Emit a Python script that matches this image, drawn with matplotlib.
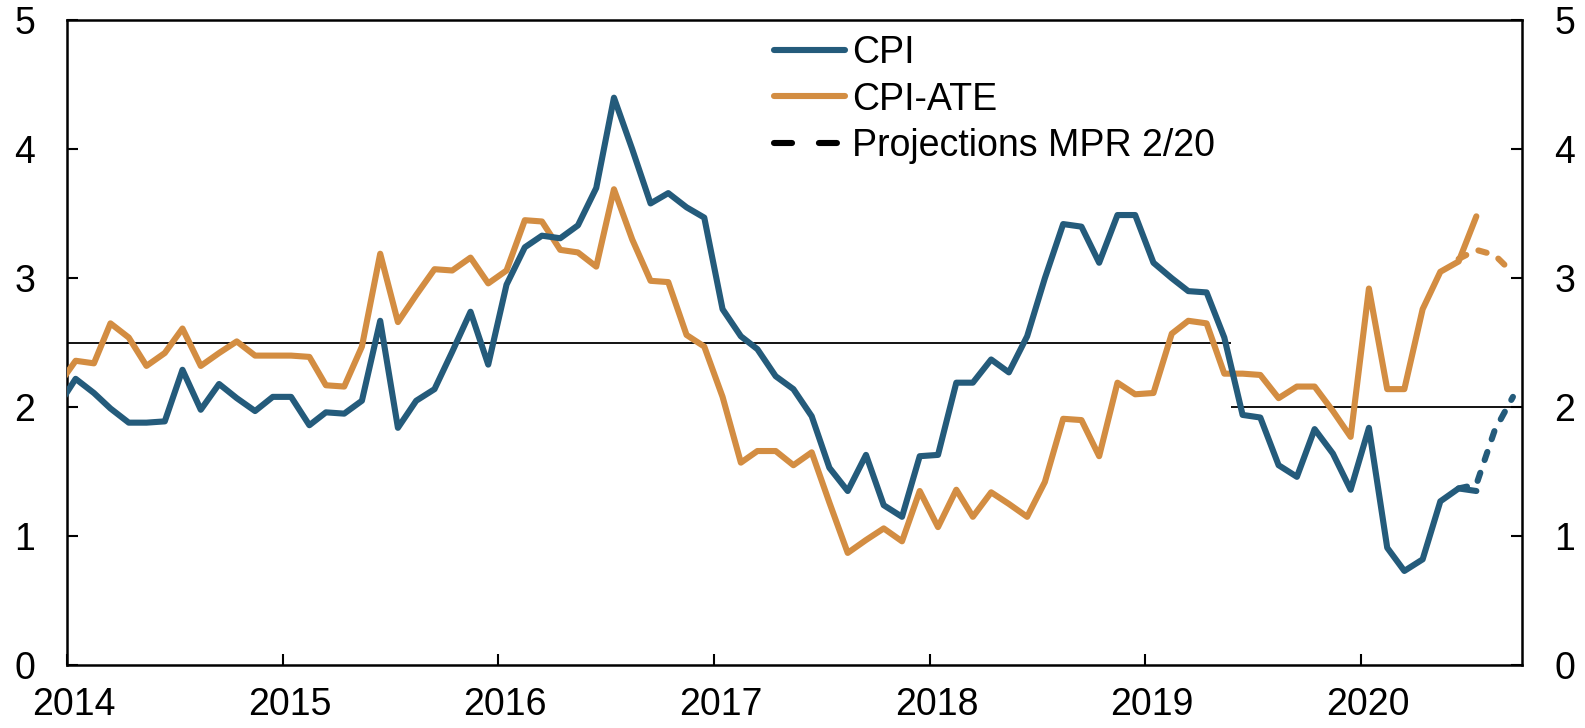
import numpy as np
import pandas as pd
import matplotlib
matplotlib.use("Agg")
import matplotlib.pyplot as plt
import matplotlib.transforms as mtransforms
from matplotlib.lines import Line2D

plt.rcParams['font.family'] = ['Liberation Sans', 'DejaVu Sans']

# monthly observations, Dec 2013 - Jul 2020 (plotted mid-month)
months = pd.date_range("2013-12-01", "2020-07-01", freq="MS") + pd.Timedelta(days=14)
cpi = [2.00,
       2.22, 2.11, 1.99, 1.88, 1.88, 1.89, 2.29, 1.98, 2.18, 2.07, 1.97, 2.08,
       2.08, 1.86, 1.96, 1.95, 2.05, 2.67, 1.84, 2.05, 2.14, 2.43, 2.74, 2.33,
       2.95, 3.24, 3.33, 3.31, 3.41, 3.70, 4.40, 4.00, 3.58, 3.66, 3.55, 3.47,
       2.76, 2.55, 2.45, 2.24, 2.14, 1.93, 1.53, 1.35, 1.63, 1.24, 1.15, 1.62,
       1.63, 2.19, 2.19, 2.37, 2.27, 2.55, 3.00, 3.42, 3.40, 3.12, 3.49, 3.49,
       3.12, 3.00, 2.90, 2.89, 2.54, 1.94, 1.92, 1.55, 1.46, 1.83, 1.64, 1.36,
       1.84, 0.91, 0.73, 0.82, 1.27, 1.37, 1.35]
cpi_ate = [2.16,
           2.36, 2.34, 2.65, 2.54, 2.32, 2.42, 2.61, 2.32, 2.42, 2.51, 2.40, 2.40,
           2.40, 2.39, 2.17, 2.16, 2.47, 3.19, 2.66, 2.87, 3.07, 3.06, 3.16, 2.96,
           3.06, 3.45, 3.44, 3.22, 3.20, 3.09, 3.69, 3.30, 2.98, 2.97, 2.56, 2.47,
           2.08, 1.57, 1.66, 1.66, 1.55, 1.65, 1.26, 0.87, 0.97, 1.06, 0.96, 1.35,
           1.07, 1.36, 1.15, 1.34, 1.25, 1.15, 1.42, 1.91, 1.90, 1.62, 2.19, 2.10,
           2.11, 2.57, 2.67, 2.65, 2.26, 2.26, 2.25, 2.07, 2.16, 2.16, 1.97, 1.77,
           2.92, 2.14, 2.14, 2.76, 3.05, 3.13, 3.48]

# projections MPR 2/20, Jun - Sep 2020
proj_months = pd.date_range("2020-06-01", "2020-09-01", freq="MS") + pd.Timedelta(days=14)
cpi_proj = [1.37, 1.40, 1.82, 2.08]
cpi_ate_proj = [3.15, 3.22, 3.18, 3.04]

# inflation target (2.5 until mid 2019, then 2.0)
target_switch = pd.Timestamp("2019-05-27")
target_old, target_new = 2.5, 2.0

BLUE = "#245b7b"
ORANGE = "#d38d42"
LW = 4.4
FS = 27

fig = plt.figure(figsize=(15.85, 7.28), dpi=100)
ax = fig.add_axes([0.0425, 0.0864, 0.918, 0.8857])

x0, x1 = pd.Timestamp("2014-01-01"), pd.Timestamp("2020-10-01")
ax.hlines(target_old, x0, target_switch, color="black", linewidth=1.3, zorder=1)
ax.hlines(target_new, target_switch, x1, color="black", linewidth=1.3, zorder=1)

line_kw = dict(linewidth=LW, solid_joinstyle="round", solid_capstyle="round", zorder=3)
ax.plot(months, cpi_ate, color=ORANGE, **line_kw)
ax.plot(months, cpi, color=BLUE, **line_kw)
dash_kw = dict(linewidth=LW, linestyle=(0, (1.4, 2.2)), dash_capstyle="round", zorder=3)
ax.plot(proj_months, cpi_ate_proj, color=ORANGE, **dash_kw)
ax.plot(proj_months, cpi_proj, color=BLUE, **dash_kw)

ax.set_xlim(x0, x1)
ax.set_ylim(0, 5)
ax.set_yticks(range(6))
years = pd.date_range("2014-01-01", "2020-01-01", freq="YS")
ax.set_xticks(years)
ax.set_xticklabels([str(y.year) for y in years])

ax.tick_params(axis="y", direction="in", length=8, width=1.5, labelsize=FS,
               right=True, labelright=True, pad=23)
ax.tick_params(axis="x", direction="in", length=8, width=1.5, labelsize=FS, pad=16)
# year labels sit a little to the right of the year ticks
shift = mtransforms.ScaledTranslation(0.07, 0, fig.dpi_scale_trans)
for lab in ax.get_xticklabels():
    lab.set_transform(lab.get_transform() + shift)
for s in ax.spines.values():
    s.set_linewidth(1.8)

handles = [Line2D([], [], color=BLUE, linewidth=LW, solid_capstyle="round"),
           Line2D([], [], color=ORANGE, linewidth=LW, solid_capstyle="round"),
           Line2D([], [], color="black", linewidth=LW, linestyle=(0, (2.95, 4.4)),
                  dash_capstyle="round")]
ax.legend(handles, ["CPI", "CPI-ATE", "Projections MPR 2/20"], loc="upper left",
          bbox_to_anchor=(0.47, 1.012), frameon=False, fontsize=FS,
          handlelength=1.9, handletextpad=0.2, labelspacing=0.28,
          borderaxespad=0.2)

fig.savefig("out.png", dpi=100, facecolor="white")
